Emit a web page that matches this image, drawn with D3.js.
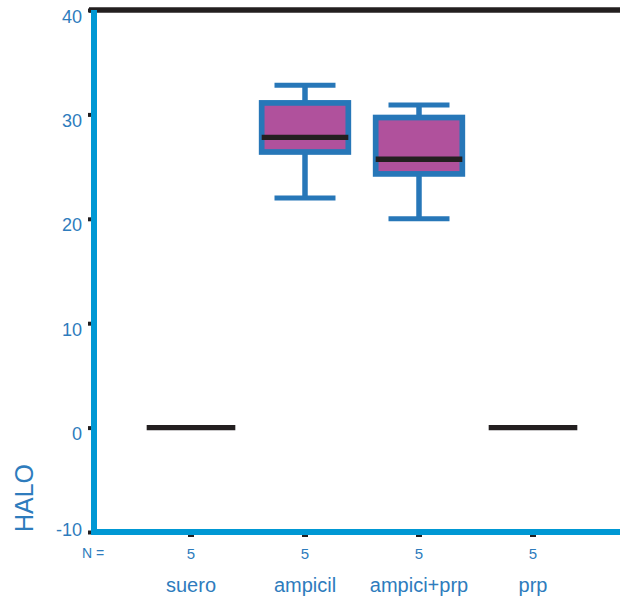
<!DOCTYPE html>
<html>
<head>
<meta charset="utf-8">
<script src="https://cdn.jsdelivr.net/npm/d3@7"></script>
<style>
  html, body { margin: 0; padding: 0; background: #ffffff; }
  svg { display: block; }
  text { font-family: "Liberation Sans", Arial, sans-serif; }
</style>
</head>
<body>
<svg id="chart" width="620" height="598"></svg>
<script>
// ---- data ----
const categories = ["suero", "ampicil", "ampici+prp", "prp"];
const counts     = [5, 5, 5, 5];
const whiskerLow = [0, 22.0, 20.0, 0];
const q1         = [0, 26.4, 24.3, 0];
const median     = [0, 27.8, 25.7, 0];
const q3         = [0, 31.1, 29.7, 0];
const whiskerHigh= [0, 32.8, 30.9, 0];
const yTicks     = [-10, 0, 10, 20, 30, 40];
const yLabel     = "HALO";
const nLabel     = "N =";

// ---- styles ----
const AXIS_BLUE = "#0098d4";
const BOX_BLUE  = "#2777b8";
const FILL      = "#b0519c";
const BLACK     = "#231f20";
const TEXT_BLUE = "#2e7cbd";

const svg = d3.select("#chart");

const y = d3.scaleLinear().domain([-10, 40]).range([532, 10]);
const x = d3.scaleBand().domain(categories).range([134, 590]).padding(0);
const bw = x.bandwidth();
const boxW = bw * 0.76;
const capW = bw * 0.535;

const rows = categories.map((c, i) => ({
  cat: c, n: counts[i], lo: whiskerLow[i], q1: q1[i], med: median[i], q3: q3[i], hi: whiskerHigh[i]
}));

// top frame line
svg.append("line")
  .attr("x1", 89).attr("x2", 620).attr("y1", y(40)).attr("y2", y(40))
  .attr("stroke", BLACK).attr("stroke-width", 5.5);

// y axis (ticks + labels)
const yAxis = svg.append("g")
  .attr("transform", "translate(94,0)")
  .call(d3.axisLeft(y).tickValues(yTicks).tickSize(6).tickPadding(6).tickFormat(d => String(d)));
yAxis.select(".domain").remove();
yAxis.selectAll(".tick line").attr("stroke", BLACK).attr("stroke-width", 4);
yAxis.selectAll(".tick text")
  .attr("fill", TEXT_BLUE)
  .style("font-size", "18px")
  .attr("dy", d => d === yTicks[0] ? "3px" : "12px");

// x axis (ticks + category labels)
const xAxis = svg.append("g")
  .attr("transform", "translate(0,532)")
  .call(d3.axisBottom(x).tickSize(5).tickPadding(0));
xAxis.select(".domain").remove();
xAxis.selectAll(".tick line").attr("stroke", BLACK).attr("stroke-width", 6);
xAxis.selectAll(".tick text")
  .attr("fill", TEXT_BLUE)
  .style("font-size", "20px")
  .attr("y", 60).attr("dy", 0);

// blue axis lines
svg.append("line")
  .attr("x1", 94).attr("x2", 94).attr("y1", y(40)).attr("y2", y(-10) + 3)
  .attr("stroke", AXIS_BLUE).attr("stroke-width", 6);
svg.append("line")
  .attr("x1", 91).attr("x2", 620).attr("y1", y(-10)).attr("y2", y(-10))
  .attr("stroke", AXIS_BLUE).attr("stroke-width", 6);

// N row
svg.append("text")
  .attr("x", 82).attr("y", 558)
  .attr("fill", TEXT_BLUE).style("font-size", "14px")
  .text(nLabel);
svg.selectAll("text.n")
  .data(rows).enter().append("text")
  .attr("class", "n")
  .attr("x", d => x(d.cat) + bw / 2)
  .attr("y", 559)
  .attr("text-anchor", "middle")
  .attr("fill", TEXT_BLUE).style("font-size", "15px")
  .text(d => d.n);

// y label
svg.append("text")
  .attr("transform", "translate(33,498) rotate(-90)")
  .attr("text-anchor", "middle")
  .attr("fill", TEXT_BLUE)
  .style("font-size", "25px")
  .text(yLabel);

// boxes
const g = svg.selectAll("g.box").data(rows).enter().append("g").attr("class", "box");
const cx = d => x(d.cat) + bw / 2;

// whisker stems
g.append("line")
  .attr("x1", cx).attr("x2", cx)
  .attr("y1", d => y(d.hi)).attr("y2", d => y(d.lo))
  .attr("stroke", BOX_BLUE).attr("stroke-width", 5.5);
// caps
["hi", "lo"].forEach(k => {
  g.append("line")
    .attr("x1", d => cx(d) - capW / 2).attr("x2", d => cx(d) + capW / 2)
    .attr("y1", d => y(d[k])).attr("y2", d => y(d[k]))
    .attr("stroke", BOX_BLUE).attr("stroke-width", 5);
});
// box
g.append("rect")
  .attr("x", d => cx(d) - boxW / 2)
  .attr("width", boxW)
  .attr("y", d => y(d.q3))
  .attr("height", d => y(d.q1) - y(d.q3))
  .attr("fill", FILL)
  .attr("stroke", BOX_BLUE).attr("stroke-width", 5.7);
// median
g.append("line")
  .attr("x1", d => cx(d) - boxW / 2 + (d.q3 === d.q1 ? -1 : 0))
  .attr("x2", d => cx(d) + boxW / 2 + (d.q3 === d.q1 ? 1 : 0))
  .attr("y1", d => y(d.med)).attr("y2", d => y(d.med))
  .attr("stroke", BLACK).attr("stroke-width", 5.4);
</script>
</body>
</html>
